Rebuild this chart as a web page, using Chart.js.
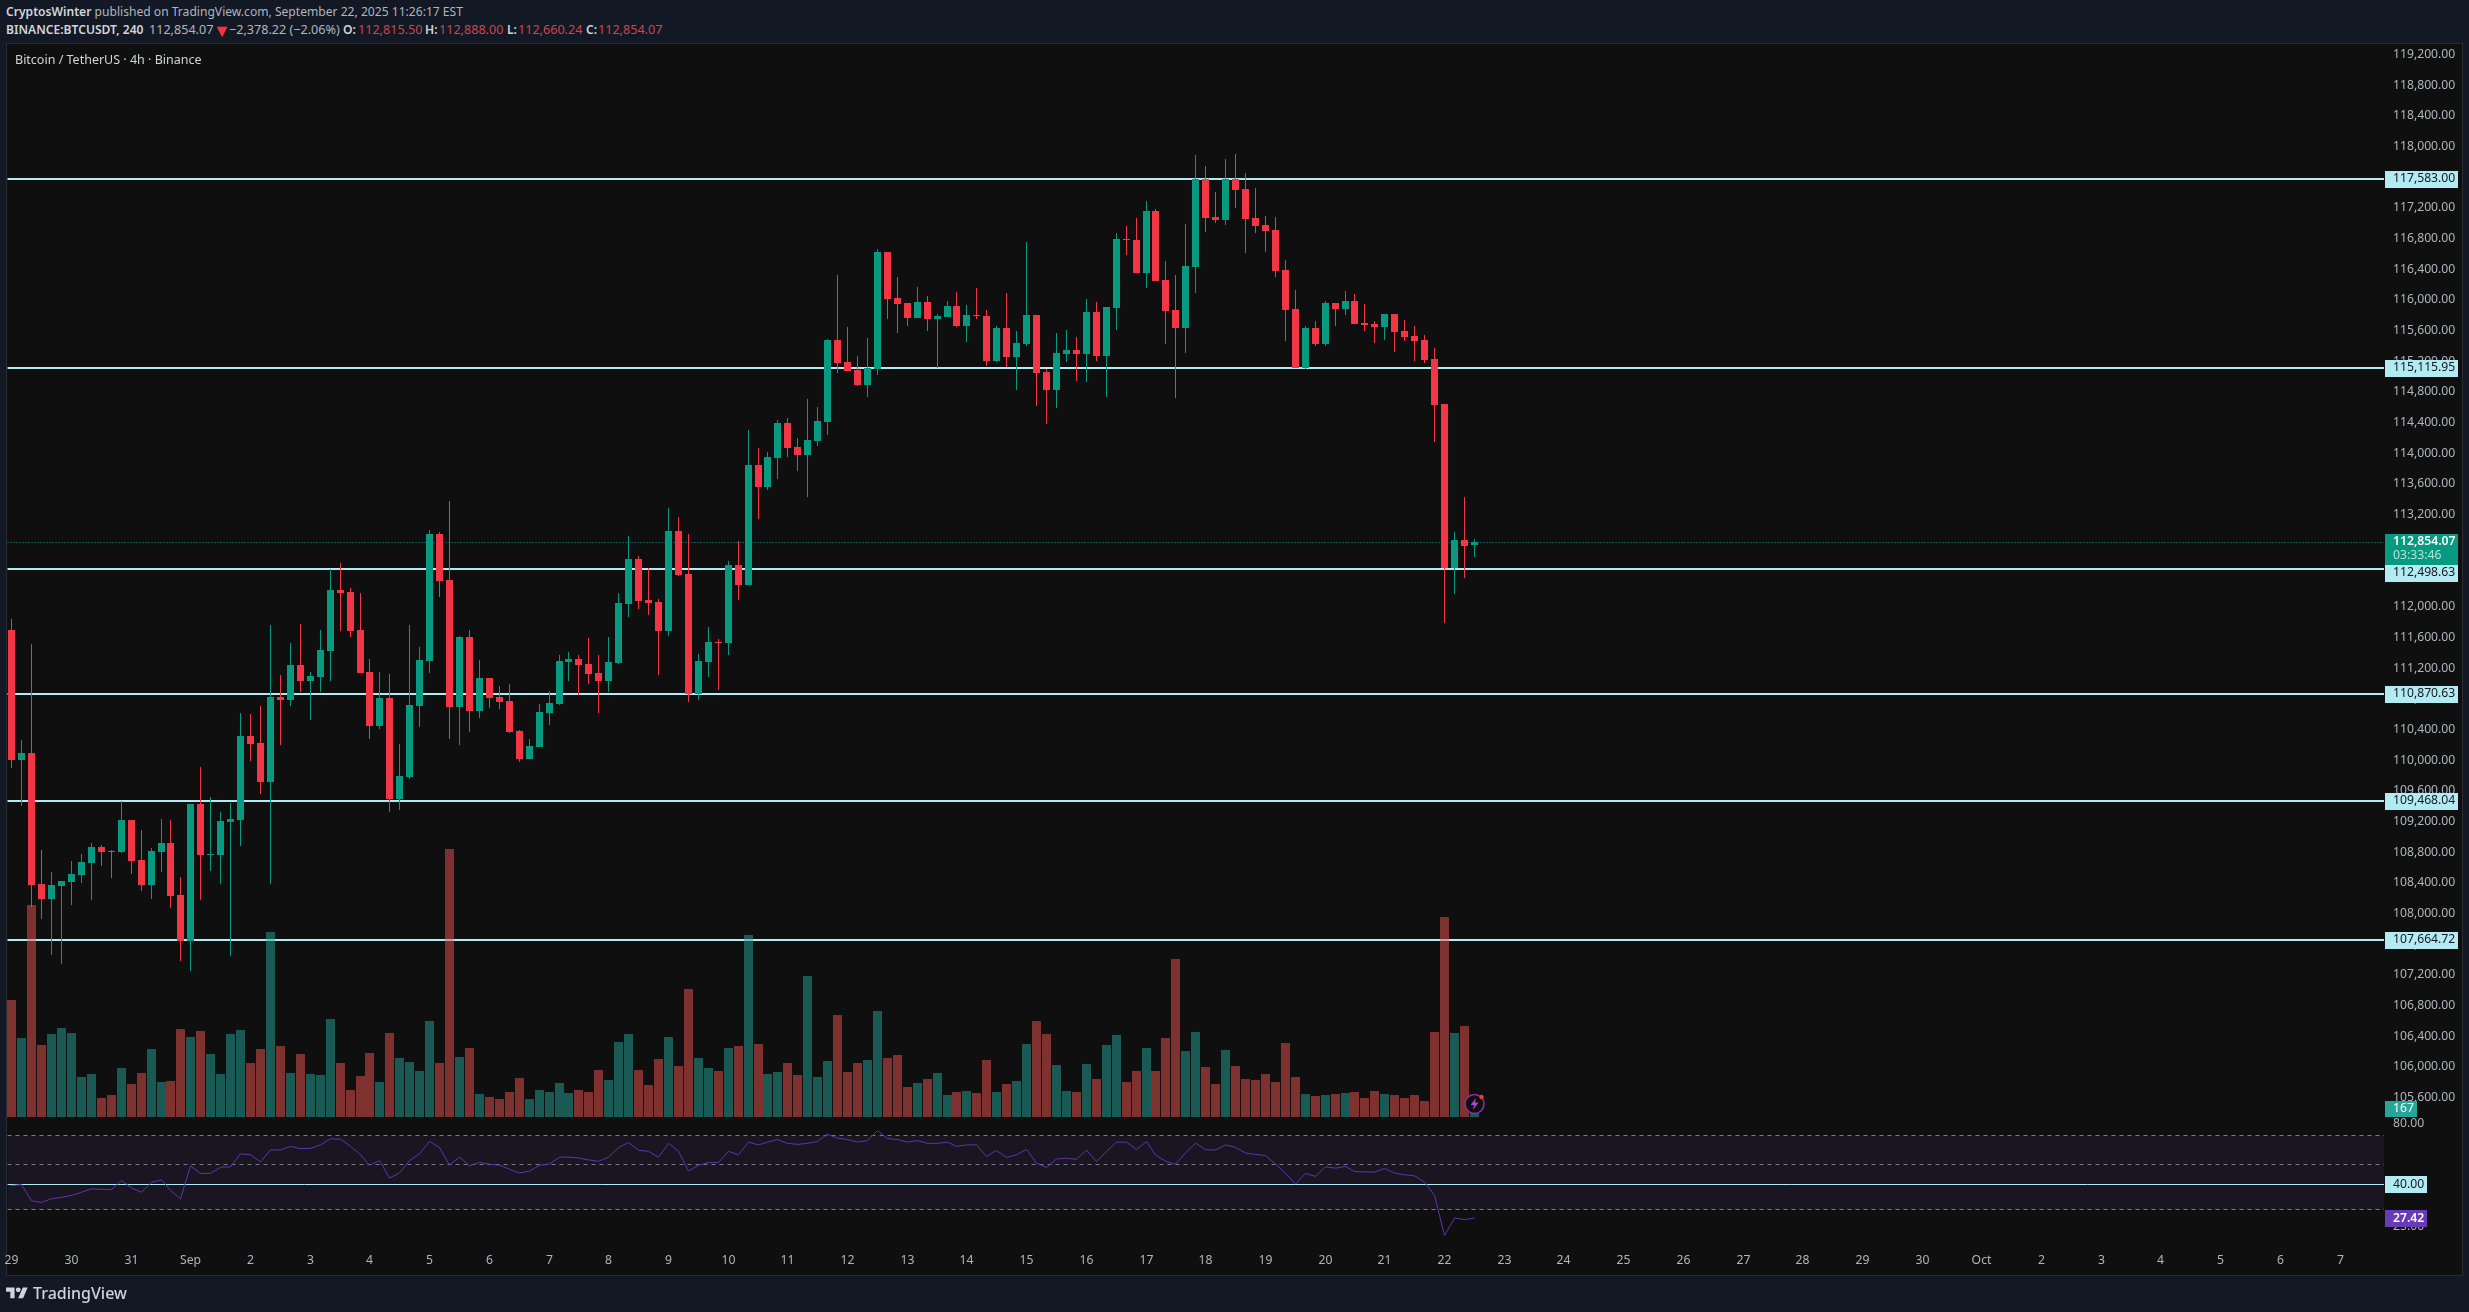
<!DOCTYPE html>
<html>
<head>
<meta charset="utf-8">
<title>BTCUSDT 4h</title>
<script src="https://cdn.jsdelivr.net/npm/chart.js@4"></script>
<style>
  html, body { margin: 0; padding: 0; background: #121824; overflow: hidden; }
  body { width: 2469px; height: 1312px; position: relative; font-family: "Noto Sans", sans-serif; color: #b2b5be; }
  #panel { position: absolute; left: 6px; top: 43px; width: 2455px; height: 1231px; background: #0f0f0f; border: 1px solid #2a2c33; }
  canvas { position: absolute; left: 0; top: 0; }
  .line { position: absolute; font-size: 12.1px; line-height: 16px; white-space: pre; }
  .line b { color: #d1d4dc; font-weight: 600; }
  .num { font-size: 12.6px; }
  .red { color: #d0454c; }
  #brand { position: absolute; left: 33px; top: 1282px; font-size: 16px; line-height: 22px; font-weight: 500; color: #d1d4dc; }
  #logo { position: absolute; left: 6px; top: 1285px; }
</style>
</head>
<body>
<div id="panel"></div>
<div class="line" style="left:6px;top:4px"><b>CryptosWinter</b> published on TradingView.com, September 22, 2025 11:26:17 EST</div>
<div class="line" style="left:6px;top:22px"><b>BINANCE:BTCUSDT, 240</b></div>
<div class="line num" style="left:149px;top:22px">112,854.07</div>
<div class="line" style="left:213px;top:22px;color:#f23645;font-size:18px">▼</div>
<div class="line num" style="left:229px;top:22px">−2,378.22 (−2.06%)</div>
<div class="line" style="left:343px;top:22px"><b>O:</b></div>
<div class="line num red" style="left:358px;top:22px">112,815.50</div>
<div class="line" style="left:425px;top:22px"><b>H:</b></div>
<div class="line num red" style="left:439px;top:22px">112,888.00</div>
<div class="line" style="left:507px;top:22px"><b>L:</b></div>
<div class="line num red" style="left:518px;top:22px">112,660.24</div>
<div class="line" style="left:586px;top:22px"><b>C:</b></div>
<div class="line num red" style="left:598px;top:22px">112,854.07</div>
<canvas id="chart" width="2469" height="1312"></canvas>
<svg id="logo" width="22" height="17" viewBox="0 0 36 28"><path fill="#d1d4dc" d="M14 22H7V11H0V4h14v18zM28 22h-8l7.5-18h8L28 22z"/><circle fill="#d1d4dc" cx="20" cy="8" r="4"/></svg>
<div id="brand">TradingView</div>
<script>
const opens = [111702,110007,110099,108391,108195,108365,108417,108508,108665,108873,
  108825,108808,109225,108704,108378,108808,108925,108247,107648,109434,
  108769,108769,109199,109225,110320,110229,109721,110829,110790,111246,
  111037,111090,111429,112224,112198,111702,111155,110451,110816,109499,
  109786,110711,111298,112954,112354,110698,111611,110646,111077,110829,
  110777,110386,110020,110177,110620,110738,111285,111324,111259,111142,
  111037,111272,112041,112628,112094,112067,111689,112993,112433,110868,
  111285,111546,111533,112550,112289,113854,113567,113945,114401,114088,
  113984,114167,114414,115483,115197,115092,114897,115105,116631,116031,
  115966,115770,115979,115757,115783,115927,115666,115809,115796,115210,
  115640,115262,115431,115809,115066,114832,115301,115353,115301,115848,
  115275,115901,116800,116787,116357,117165,116266,115875,115640,116435,
  117583,117087,117048,117583,117452,117074,116983,116918,116396,115888,
  115118,115640,115431,115966,115888,115992,115705,115692,115653,115822,
  115601,115536,115483,115236,114649,112511,112876,112815.5];
const highs = [111846,110268,111520,108834,108547,108430,108691,108782,108925,108899,
  108834,109473,109225,109095,108860,109238,109225,108482,109434,109916,
  109525,109329,109447,110620,110607,110712,111768,111116,111533,111781,
  111155,111702,112498,112576,112250,112185,111324,111155,111129,110216,
  111768,111481,113006,112980,113384,111624,111702,111311,111077,110972,
  110998,110399,110281,110738,110907,111376,111416,111376,111598,111376,
  111611,112185,112928,112667,112511,112107,113293,113176,112954,111389,
  111741,111585,112602,112863,114310,114075,114023,114440,114466,114206,
  114714,114610,115496,116331,115653,115275,115509,116670,116631,116305,
  115966,116174,116057,115822,115992,116109,115940,116161,115875,115666,
  116096,115601,116761,115809,115105,115575,115614,115522,116018,115979,
  115914,116879,116970,117074,117296,117191,116513,116331,116996,117895,
  117752,117413,117843,117909,117660,117465,117100,117087,116526,116135,
  115666,115731,115992,115966,116122,116083,115953,115731,115822,115822,
  115744,115666,115549,115379,114649,112980,113436,112888];
const lows = [109903,109408,108095,107934,107465,107348,108117,108404,108182,108625,
  108469,108795,108521,108299,108195,108547,108078,107387,107261,108182,
  108560,108391,107452,108886,109994,109564,108391,110203,110711,110894,
  110529,110894,111037,111689,111611,111142,110281,110412,109329,109356,
  109760,110438,111142,112133,110281,110203,110372,110555,110685,110672,
  110359,109981,110020,110177,110464,110725,111037,110855,110998,110620,
  110894,111259,111872,111976,111898,111116,111624,112406,110764,110790,
  111090,110920,111376,112094,112289,113150,113528,113671,113958,113775,
  113436,114101,114245,115053,115079,114884,114740,115027,115757,115575,
  115666,115770,115601,115118,115783,115653,115457,115757,115144,115197,
  115131,114832,115405,114623,114388,114597,115197,114949,114936,115210,
  114740,115614,116592,116357,116161,116253,115431,114727,115314,116096,
  116892,117009,116983,117204,116618,116879,116631,116305,115470,115118,
  115105,115405,115405,115666,115809,115692,115601,115444,115483,115327,
  115470,115210,115184,114154,111794,112172,112380,112660.24];
const closes = [110007,110099,108378,108195,108378,108430,108521,108678,108873,108808,
  108808,109225,108691,108378,108821,108925,108234,107648,109434,108769,
  108782,109212,109238,110320,110216,109721,110829,110790,111246,111037,
  111103,111442,112224,112185,111689,111142,110451,110816,109499,109799,
  110725,111311,112954,112341,110698,111611,110646,111077,110816,110764,
  110372,110020,110190,110633,110751,111298,111324,111246,111129,111037,
  111285,112054,112628,112080,112054,111689,112993,112419,110868,111298,
  111546,111533,112550,112289,113854,113567,113958,114401,114075,113984,
  114180,114427,115483,115184,115079,114897,115118,116631,116018,115953,
  115770,115979,115757,115796,115927,115666,115809,115796,115210,115640,
  115262,115444,115809,115053,114832,115314,115353,115301,115848,115275,
  115914,116800,116787,116357,117165,116253,115862,115640,116448,117583,
  117074,117048,117583,117439,117061,116970,116905,116383,115875,115118,
  115640,115431,115966,115888,115992,115692,115679,115653,115822,115588,
  115523,115470,115223,114636,112511,112876,112798,112854.07];
const volumes = [5265,3555,9540,3240,3735,4005,3780,1800,1935,855,
  990,2205,1485,1980,3060,1575,1620,3960,3600,3870,
  2835,1935,3735,3915,2430,3060,8325,3195,1980,2835,
  1935,1890,4410,2430,1215,1845,2880,1575,3780,2655,
  2475,2070,4320,2430,12060,2700,3105,1035,900,810,
  1125,1755,810,1215,1125,1530,1080,1215,1125,2115,
  1665,3375,3735,2115,1440,2610,3600,2295,5760,2655,
  2205,2070,3105,3195,8190,3285,1935,2025,2430,1890,
  6345,1800,2520,4590,2025,2430,2565,4770,2655,2790,
  1350,1530,1710,1980,990,1125,1170,1080,2565,1125,
  1485,1620,3285,4320,3735,2340,1170,1125,2385,1710,
  3240,3690,1575,2070,3105,2070,3555,7110,2970,3825,
  2250,1485,3015,2295,1710,1665,1935,1575,3330,1800,
  1035,945,990,1035,1080,1125,855,1170,1035,990,
  855,990,720,3825,9000,3780,4095,167];
const rsiValues = [39.6,40,33.3,32.7,34.1,34.6,35.4,36.7,38.1,37.9,
  37.8,41.9,38.5,36.7,41.1,42.2,37.5,34,49.5,45.4,
  45.4,48.7,48.9,56.7,56.1,51.7,59.2,59.2,61.7,60.1,
  60.3,62.7,67.2,66.9,61.7,56.1,49.8,52.5,43.1,45.6,
  52.5,56.7,65.2,60.8,50,54.6,49.5,51.5,50.4,49.8,
  47.6,45.6,46.6,49.8,50.6,54.6,54.6,54.1,52.9,52.1,
  54.6,60.8,64.5,59,58.3,54.6,63.8,58.3,46.6,49.8,
  51.4,51.4,58.3,56.1,64.7,62.7,64.7,66.6,63.8,63.1,
  63.8,65.2,70.8,67.7,66.6,64.7,65.9,73.7,67.4,66.6,
  64.7,65.9,63.8,63.8,64.7,61.7,62.7,62.7,55,59,
  54.4,56.1,59.6,51,48.5,53.5,53.9,53.3,59,51.9,
  58.3,64.7,64.7,59.6,65.2,55.9,52.1,50.4,57.2,64,
  59.4,59.2,62.7,61,57.2,56.3,55.6,50.4,45.6,40.2,
  45.4,43.9,48.9,48.2,49.1,46.4,46.2,46.1,48,45.6,
  44.7,44.2,41.1,35.4,22.5,27.4,26.9,27.42];

const levels = [117583, 115115.95, 112498.63, 110870.63, 109468.04, 107664.72];
const lastPrice = 112854.07;
const rsiBands = [70, 50, 30];
const rsiLevel = 40;
const priceTicks = [119200,118800,118400,118000,117600,117200,116800,116400,116000,115600,115200,114800,114400,114000,113600,113200,112800,112400,112000,111600,111200,110800,110400,110000,109600,109200,108800,108400,108000,107600,107200,106800,106400,106000,105600];
const dayLabels = ["29","30","31","Sep","2","3","4","5","6","7","8","9","10","11","12","13","14","15","16","17","18","19","20","21","22","23","24","25","26","27","28","29","30","Oct","2","3","4","5","6","7"];

const UP = "#089981", DOWN = "#f23645";
const VOL_UP = "rgba(38,166,154,0.5)", VOL_DOWN = "rgba(239,83,80,0.5)";
const LEVEL = "#b2ebf2", PURPLE = "#5e35b1";
const FONT = '"Noto Sans", sans-serif';
const AXIS_SIZE = 12.2;
const xMin = -0.479, xMax = 238.42;
const priceMin = 103697.5, priceMax = 119356.2;
const rsiMin = 20.41, rsiMax = 16527700;

const idx = opens.map((_, i) => i);
const isUp = i => closes[i] >= opens[i];
const proto = type => Chart.registry.getScale(type).prototype.getPixelForValue;

// TradingView snaps its marks to device pixels, so do the same on the scales
const snapX = s => { s.getPixelForValue = v => Math.floor(proto("linear").call(s, v)) + 0.5; };
const snapY = s => { s.getPixelForValue = v => Math.round(proto("linear").call(s, v)); };
const snapMark = s => { s.getPixelForValue = v => Math.round(proto("linear").call(s, v)) + 0.5; };
const snapRsiMark = s => { s.getPixelForValue = v => Math.floor(proto("logarithmic").call(s, v)) + 0.5; };

const flat = (y, yAxisID, extra) => ({
  type: "line",
  yAxisID,
  data: [{ x: xMin, y }, { x: xMax, y }],
  pointRadius: 0,
  tension: 0,
  ...extra
});

const bars = (data, thickness, colors, yAxisID, order) => ({
  type: "bar",
  yAxisID,
  data,
  grouped: false,
  barThickness: thickness,
  backgroundColor: colors,
  borderWidth: 0,
  inflateAmount: 0,
  minBarLength: 1,
  order
});

const datasets = [
  flat(70, "yRsi", { borderWidth: 0, borderColor: "transparent", backgroundColor: "rgba(126,87,194,0.1)", fill: { value: 30 }, order: 9 }),
  ...rsiBands.map(v => flat(v, "yRsiMark", { borderWidth: 1, borderColor: "#787b86", borderDash: [4, 4], order: 8 })),
  flat(rsiLevel, "yRsiMark", { borderWidth: 1, borderColor: LEVEL, order: 7 }),
  flat(lastPrice, "yMark", { borderWidth: 1, borderColor: UP, borderDash: [1, 2], order: 6 }),
  ...levels.map(v => flat(v, "y", { borderWidth: 2, borderColor: LEVEL, order: 5 })),
  bars(idx.map(i => ({ x: i, y: [lows[i], highs[i]] })), 1, idx.map(i => isUp(i) ? UP : DOWN), "y", 4),
  bars(idx.map(i => ({ x: i, y: [opens[i], closes[i]] })), 7, idx.map(i => isUp(i) ? UP : DOWN), "y", 3),
  bars(idx.map(i => ({ x: i, y: volumes[i] })), 9, idx.map(i => isUp(i) ? VOL_UP : VOL_DOWN), "yVol", 2),
  { type: "line", yAxisID: "yRsi", data: idx.map(i => ({ x: i, y: rsiValues[i] })), borderColor: PURPLE, borderWidth: 1, pointRadius: 0, tension: 0, order: 1 }
];

function tag(ctx, x, yc, w, bg, text, color, bold) {
  ctx.fillStyle = bg;
  ctx.fillRect(x, Math.round(yc - 8.5), w, 17);
  ctx.fillStyle = color;
  ctx.font = (bold ? "600 " : "") + AXIS_SIZE + "px " + FONT;
  ctx.textAlign = "left";
  ctx.textBaseline = "middle";
  ctx.fillText(text, 2393, yc);
}

const overlay = {
  id: "overlay",
  afterDraw(chart) {
    const { ctx, scales } = chart;
    ctx.save();

    ctx.fillStyle = "#d1d4dc";
    ctx.font = "12.5px " + FONT;
    ctx.textAlign = "left";
    ctx.textBaseline = "middle";
    ctx.fillText("Bitcoin / TetherUS · 4h · Binance", 15, 60);

    // pane labels of the RSI study
    ctx.fillStyle = "#b2b5be";
    ctx.font = AXIS_SIZE + "px " + FONT;
    ctx.fillText("80.00", 2393, scales.yRsi.getPixelForValue(80));
    ctx.fillText("25.00", 2393, scales.yRsi.getPixelForValue(25));

    // price tags on the axis
    levels.forEach(v => {
      const shift = v === 112498.63 ? 4 : 0;
      tag(ctx, 2385, scales.y.getPixelForValue(v) + shift, 73, LEVEL, v.toLocaleString("en-US", { minimumFractionDigits: 2 }), "#131722");
    });

    const lastY = scales.y.getPixelForValue(lastPrice);
    ctx.fillStyle = UP;
    ctx.fillRect(2385, lastY - 8, 73, 31);
    ctx.fillStyle = "#ffffff";
    ctx.font = "600 " + AXIS_SIZE + "px " + FONT;
    ctx.fillText("112,854.07", 2393, lastY);
    ctx.fillStyle = "#b5e3da";
    ctx.font = AXIS_SIZE + "px " + FONT;
    ctx.fillText("03:33:46", 2393, lastY + 14);

    const volBase = scales.yVol.getPixelForValue(0);
    ctx.fillStyle = "#26a69a";
    ctx.fillRect(2385, volBase - 16, 32, 16);
    ctx.fillStyle = "#ffffff";
    ctx.fillText(String(volumes[volumes.length - 1]), 2393, volBase - 8);

    tag(ctx, 2385, scales.yRsi.getPixelForValue(rsiLevel), 42, LEVEL, "40.00", "#131722");
    tag(ctx, 2385, scales.yRsi.getPixelForValue(rsiValues[rsiValues.length - 1]) + 0.6, 42, "#673ab7", "27.42", "#ffffff", true);

    // news bolt next to the last bar
    const cx = scales.x.getPixelForValue(idx.length - 1), cy = volBase - 13;
    ctx.fillStyle = "#0f0f0f";
    ctx.strokeStyle = "#8e2fa8";
    ctx.lineWidth = 1.5;
    ctx.beginPath();
    ctx.arc(cx, cy, 9.5, 0, Math.PI * 2);
    ctx.fill();
    ctx.stroke();
    ctx.fillStyle = "#b040d0";
    ctx.beginPath();
    [[1.5, -6], [-4, 1], [-0.5, 1], [-1.5, 6], [4, -1.5], [0.5, -1.5]].forEach(([dx, dy], i) => {
      if (i === 0) ctx.moveTo(cx + dx, cy + dy);
      else ctx.lineTo(cx + dx, cy + dy);
    });
    ctx.closePath();
    ctx.fill();
    ctx.fillStyle = "#f23645";
    ctx.beginPath();
    ctx.arc(cx + 7, cy - 7, 2.2, 0, Math.PI * 2);
    ctx.fill();

    ctx.restore();
  }
};

const hiddenY = (min, max, extra) => ({ display: false, min, max, grid: { display: false }, ...extra });

new Chart(document.getElementById("chart"), {
  data: { datasets },
  plugins: [overlay],
  options: {
    responsive: false,
    animation: false,
    devicePixelRatio: 1,
    layout: { padding: { left: 7, top: 43, right: 7, bottom: 37 } },
    plugins: { legend: { display: false }, tooltip: { enabled: false } },
    scales: {
      x: {
        type: "linear",
        offset: false,
        min: xMin,
        max: xMax,
        grid: { display: false, drawTicks: false },
        border: { display: false },
        ticks: {
          autoSkip: false,
          maxRotation: 0,
          padding: 9,
          color: "#b2b5be",
          font: { family: FONT, size: AXIS_SIZE },
          callback: (v, i) => dayLabels[i]
        },
        afterBuildTicks: s => { s.ticks = dayLabels.map((_, k) => ({ value: k * 6 })); },
        afterFit: s => { s.height = 31; s.paddingLeft = 0; s.paddingRight = 0; },
        afterUpdate: snapX
      },
      y: {
        position: "right",
        min: priceMin,
        max: priceMax,
        grid: { display: false, drawTicks: false },
        border: { display: false },
        ticks: {
          autoSkip: false,
          padding: 9,
          color: "#b2b5be",
          font: { family: FONT, size: AXIS_SIZE },
          callback: v => v.toLocaleString("en-US", { minimumFractionDigits: 2 })
        },
        afterBuildTicks: s => { s.ticks = priceTicks.map(value => ({ value })); },
        afterFit: s => { s.width = 78; s.paddingTop = 0; s.paddingBottom = 0; },
        afterUpdate: snapY
      },
      yMark: hiddenY(priceMin, priceMax, { afterUpdate: snapMark }),
      yVol: hiddenY(-5715, 48330),
      yRsi: hiddenY(rsiMin, rsiMax, { type: "logarithmic" }),
      yRsiMark: hiddenY(rsiMin, rsiMax, { type: "logarithmic", afterUpdate: snapRsiMark })
    }
  }
});
</script>
</body>
</html>
